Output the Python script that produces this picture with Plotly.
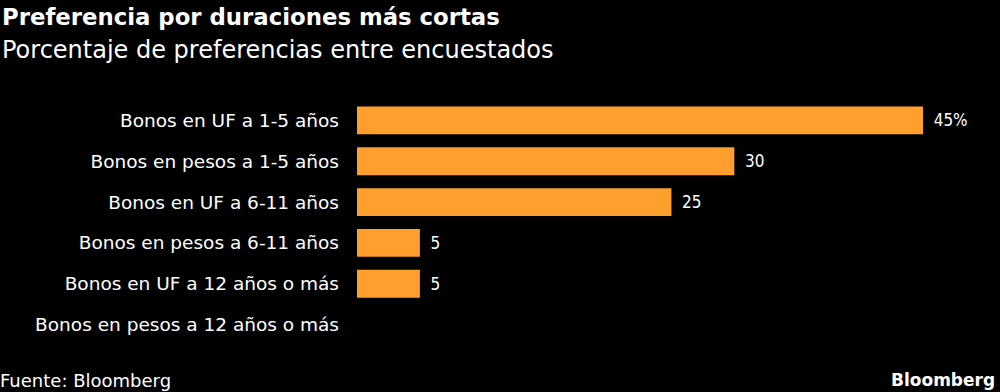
import plotly.graph_objects as go

categories = [
    "Bonos en UF a 1-5 años",
    "Bonos en pesos a 1-5 años",
    "Bonos en UF a 6-11 años",
    "Bonos en pesos a 6-11 años",
    "Bonos en UF a 12 años o más",
    "Bonos en pesos a 12 años o más",
]
values = [45, 30, 25, 5, 5, 0]
value_labels = ["45%", "30", "25", "5", "5", ""]

FONT = "DejaVu Sans"
FONT_C = "DejaVu Sans Condensed, DejaVu Sans"

L, R, T, B = 357, 77, 100, 47
PW, PH = 1000 - L - R, 392 - T - B

fig = go.Figure(
    go.Bar(
        x=values,
        y=categories,
        orientation="h",
        marker=dict(color="#ffa02e", line=dict(width=0)),
        width=0.68,
        text=value_labels,
        texttemplate="\u2002%{text}",
        textposition="outside",
        textfont=dict(color="#ffffff", size=17, family=FONT_C),
        cliponaxis=False,
        hoverinfo="skip",
    )
)

fig.update_layout(
    width=1000,
    height=392,
    paper_bgcolor="#000000",
    plot_bgcolor="#000000",
    margin=dict(l=L, r=R, t=T, b=B),
    showlegend=False,
    font=dict(family=FONT, color="#ffffff"),
    xaxis=dict(range=[0, 45], visible=False, fixedrange=True),
    yaxis=dict(
        autorange="reversed",
        showgrid=False,
        zeroline=False,
        showline=False,
        ticks="",
        ticklabelstandoff=17,
        tickfont=dict(size=18.5, color="#ffffff", family=FONT),
        fixedrange=True,
    ),
)


def px_x(x):
    return (x - L) / PW


def px_y(y):
    return (392 - B - y) / PH


fig.add_annotation(text="<b>Preferencia por duraciones más cortas</b>", xref="paper", yref="paper",
                   x=px_x(0), y=px_y(17), xanchor="left", yanchor="middle", showarrow=False,
                   font=dict(size=22.8, color="#ffffff", family=FONT))
fig.add_annotation(text="Porcentaje de preferencias entre encuestados", xref="paper", yref="paper",
                   x=px_x(0), y=px_y(50), xanchor="left", yanchor="middle", showarrow=False,
                   font=dict(size=24, color="#ffffff", family=FONT))
fig.add_annotation(text="Fuente: Bloomberg", xref="paper", yref="paper",
                   x=px_x(-2), y=px_y(380), xanchor="left", yanchor="middle", showarrow=False,
                   font=dict(size=18, color="#ffffff", family=FONT))
fig.add_annotation(text="<b>Bloomberg</b>", xref="paper", yref="paper",
                   x=px_x(997), y=px_y(380), xanchor="right", yanchor="middle", showarrow=False,
                   font=dict(size=17, color="#ffffff", family=FONT))

fig.write_html("out.html", config={"displayModeBar": False},
               post_script="document.body.style.margin='0';document.body.style.background='#000';")
